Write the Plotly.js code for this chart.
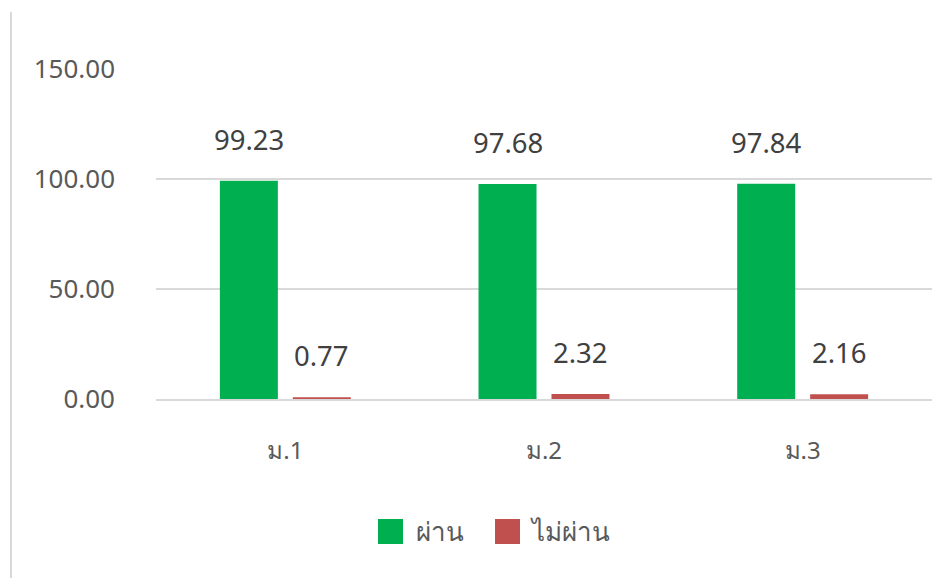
<!DOCTYPE html>
<html>
<head>
<meta charset="utf-8">
<script src="https://cdn.plot.ly/plotly-3.0.1.min.js"></script>
<style>html,body{margin:0;padding:0;background:#fff;}#chart{width:949px;height:578px;}</style>
</head>
<body>
<div id="chart"></div>
<script>
const categories = ['ม.1', 'ม.2', 'ม.3'];
const passName = 'ผ่าน';
const failName = 'ไม่ผ่าน';
const passValues = [99.23, 97.68, 97.84];
const failValues = [0.77, 2.32, 2.16];
const yTicks = [0, 50, 100, 150];

const green = '#00b050';
const red = '#c0504d';
const font = '"Noto Sans", "Leelawadee UI", Tahoma, sans-serif';

const traces = [
  {type: 'bar', name: passName, x: categories, y: passValues, marker: {color: green}, showlegend: false, hoverinfo: 'skip'},
  {type: 'bar', name: failName, x: categories, y: failValues, marker: {color: red}, showlegend: false, hoverinfo: 'skip'}
];

const bargap = 0.436;
const half = (1 - bargap) / 4; // offset of each bar centre from category centre
const annotations = [];
categories.forEach((c, i) => {
  annotations.push({x: i - half, y: passValues[i], xref: 'x', yref: 'y', text: passValues[i].toFixed(2), showarrow: false, yanchor: 'bottom', yshift: 21, font: {family: font, size: 27.5, color: '#404040'}});
  annotations.push({x: i + half, y: failValues[i], xref: 'x', yref: 'y', text: failValues[i].toFixed(2), showarrow: false, yanchor: 'bottom', yshift: 21, font: {family: font, size: 27.5, color: '#404040'}});
});

const L = 156, R = 17, T = 69, B = 179;
const W = 949 - L - R, H = 578 - T - B;
function px(x) { return (x - L) / W; }
function py(y) { return (578 - B - y) / H; }

// legend drawn manually
annotations.push({x: px(414), y: py(531), xref: 'paper', yref: 'paper', text: passName, showarrow: false, xanchor: 'left', yanchor: 'middle', font: {family: font, size: 26, color: '#595959'}});
annotations.push({x: px(528), y: py(531), xref: 'paper', yref: 'paper', text: failName, showarrow: false, xanchor: 'left', yanchor: 'middle', font: {family: font, size: 26, color: '#595959'}});

const layout = {
  width: 949, height: 578,
  margin: {l: L, r: R, t: T, b: B},
  paper_bgcolor: '#fff', plot_bgcolor: '#fff',
  bargap: bargap, bargroupgap: 0.205, barmode: 'group',
  font: {family: font, color: '#595959'},
  xaxis: {type: 'category', showgrid: false, zeroline: false, showline: true, linecolor: '#d9d9d9', linewidth: 2,
          ticks: '', tickfont: {size: 24, color: '#595959'}, ticklabelstandoff: 29},
  yaxis: {range: [0, 150], tickvals: yTicks, tickformat: '.2f', showgrid: true, gridcolor: '#d9d9d9', gridwidth: 2,
          zeroline: false, showline: false, ticks: '', tickfont: {size: 26, color: '#595959'}, ticklabelstandoff: 40},
  shapes: [
    {type: 'line', xref: 'paper', yref: 'paper', x0: px(11), x1: px(11), y0: py(578), y1: py(12), line: {color: '#d9d9d9', width: 2}},
    {type: 'rect', xref: 'paper', yref: 'paper', x0: px(378), x1: px(403), y0: py(544), y1: py(519), fillcolor: green, line: {width: 0}},
    {type: 'rect', xref: 'paper', yref: 'paper', x0: px(495), x1: px(520), y0: py(544), y1: py(519), fillcolor: red, line: {width: 0}}
  ],
  annotations: annotations,
  showlegend: false
};

Plotly.newPlot('chart', traces, layout, {displayModeBar: false, staticPlot: true});
</script>
</body>
</html>
